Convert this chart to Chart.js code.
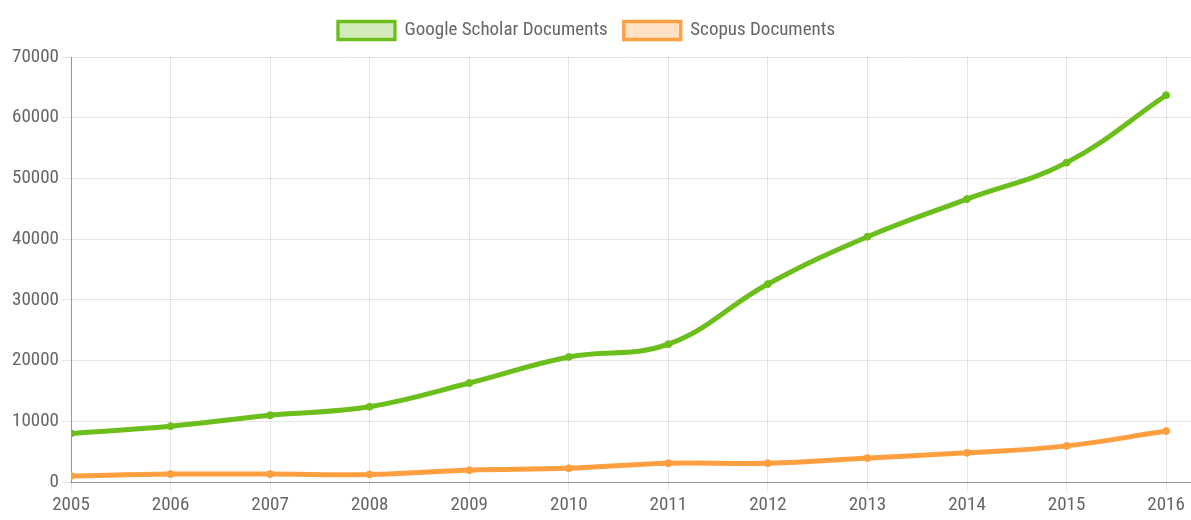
<!DOCTYPE html>
<html>
<head>
<meta charset="utf-8">
<script src="https://cdn.jsdelivr.net/npm/chart.js@4/dist/chart.umd.min.js"></script>
<style>
  html, body { margin: 0; padding: 0; background: #fff; overflow: hidden; }
  #wrap { width: 1196px; height: 520px; position: relative; }
</style>
</head>
<body>
<div id="wrap"><canvas id="c"></canvas></div>
<script>
const years = [2005, 2006, 2007, 2008, 2009, 2010, 2011, 2012, 2013, 2014, 2015, 2016];
const scholarDocs = [8000, 9200, 11000, 12400, 16300, 20600, 22700, 32600, 40400, 46600, 52600, 63700];
const scopusDocs = [1000, 1300, 1300, 1250, 1950, 2250, 3100, 3100, 3950, 4800, 5950, 8400];
const yTicks = [0, 10000, 20000, 30000, 40000, 50000, 60000, 70000];
const seriesNames = ['Google Scholar Documents', 'Scopus Documents'];

const FONT = '"Liberation Sans Narrow", "Roboto Condensed", "Liberation Sans", Arial, sans-serif';
Chart.defaults.font.family = FONT;
Chart.defaults.font.size = 19;
Chart.defaults.color = '#666';

const toPoints = (vals) => vals.map((v, i) => ({ x: years[i], y: v }));

const legendTweak = {
  id: 'legendTweak',
  beforeInit(chart) {
    const lg = chart.legend;
    const origFit = lg.fit;
    lg.fit = function () {
      origFit.call(this);
      this.height += 7;
    };
    const origDraw = lg.draw;
    lg.draw = function () {
      const ctx = this.ctx;
      ctx.save();
      ctx.translate(-11.5, 0);
      origDraw.apply(this, arguments);
      ctx.restore();
    };
  }
};

new Chart(document.getElementById('c'), {
  type: 'line',
  data: {
    datasets: [
      {
        label: seriesNames[0],
        data: toPoints(scholarDocs),
        borderColor: 'rgb(108,190,28)',
        backgroundColor: 'rgba(108,190,28,0.3)',
        pointBackgroundColor: 'rgb(108,190,28)',
        pointBorderColor: 'rgb(108,190,28)',
        borderWidth: 5,
        pointRadius: 3.5,
        pointBorderWidth: 1,
        tension: 0.4,
        fill: false
      },
      {
        label: seriesNames[1],
        data: toPoints(scopusDocs),
        borderColor: 'rgb(255,159,64)',
        backgroundColor: 'rgba(255,159,64,0.3)',
        pointBackgroundColor: 'rgb(255,159,64)',
        pointBorderColor: 'rgb(255,159,64)',
        borderWidth: 5,
        pointRadius: 3.5,
        pointBorderWidth: 1,
        tension: 0.4,
        fill: false
      }
    ]
  },
  options: {
    responsive: true,
    maintainAspectRatio: false,
    animation: false,
    layout: { padding: { top: 5, right: 0, left: 0, bottom: 0 } },
    plugins: {
      legend: {
        position: 'top',
        labels: {
          boxWidth: 57,
          boxHeight: 18,
          padding: 16,
          font: { size: 19 },
          color: '#666',
          generateLabels: (ch) => {
            const items = Chart.defaults.plugins.legend.labels.generateLabels(ch);
            items.forEach(it => { it.lineWidth = 3.3; });
            return items;
          }
        }
      },
      tooltip: { enabled: false }
    },
    scales: {
      x: {
        type: 'linear',
        min: years[0],
        max: years[years.length - 1] + 0.25,
        ticks: {
          stepSize: 1,
          includeBounds: false,
          maxRotation: 0,
          autoSkip: false,
          callback: (v) => String(v),
          font: { size: 19 },
          color: '#666'
        },
        grid: { color: 'rgba(0,0,0,0.1)', tickLength: 9 },
        border: { color: 'rgba(0,0,0,0.35)' },
        afterFit: (s) => { s.height = 38; s.paddingRight = 0; s.paddingLeft = 0; }
      },
      y: {
        min: 0,
        max: yTicks[yTicks.length - 1],
        afterBuildTicks: (s) => { s.ticks = yTicks.map(v => ({ value: v })); },
        ticks: {
          callback: (v) => String(v),
          font: { size: 19 },
          color: '#666'
        },
        grid: { color: 'rgba(0,0,0,0.1)', tickLength: 9 },
        border: { color: 'rgba(0,0,0,0.35)' },
        afterFit: (s) => { s.width = 71; }
      }
    }
  },
  plugins: [legendTweak]
});
</script>
</body>
</html>
